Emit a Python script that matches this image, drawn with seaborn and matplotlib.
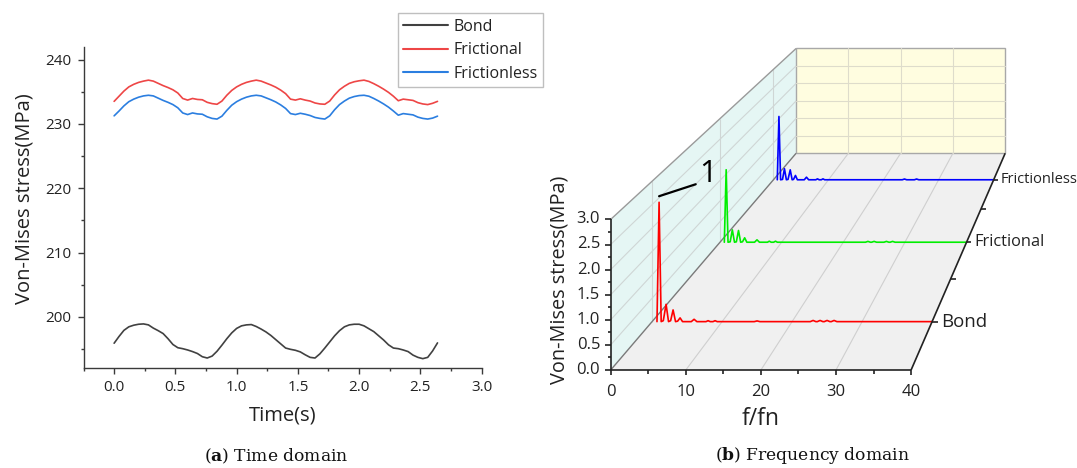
import numpy as np
import pandas as pd
import matplotlib
matplotlib.use("Agg")
import matplotlib.pyplot as plt
import matplotlib.transforms as mtransforms
from matplotlib.patches import Polygon, Rectangle
from matplotlib.lines import Line2D
from matplotlib.ticker import MultipleLocator
import seaborn as sns

# ------------------------------------------------------------------ data (a)
time_s = np.round(np.arange(0, 2.65, 0.04), 2)

bond_time = [
    195.9, 196.95, 197.9, 198.45, 198.7, 198.85, 198.9, 198.75, 198.25, 197.85,
    197.4, 196.6, 195.7, 195.2, 195.05, 194.85, 194.6, 194.3, 193.8, 193.6,
    193.9, 194.65, 195.6, 196.6, 197.5, 198.2, 198.6, 198.75, 198.8, 198.5,
    198.1, 197.65, 197.1, 196.45, 195.8, 195.15, 194.95, 194.8, 194.55, 194.1,
    193.7, 193.6, 194.25, 195.15, 196.1, 197.05, 197.85, 198.45, 198.75, 198.85,
    198.85, 198.6, 198.15, 197.7, 197.05, 196.4, 195.65, 195.15, 195.05, 194.85,
    194.6, 194.05, 193.7, 193.5, 193.7, 194.7, 195.95]

frictional_time = [
    233.5, 234.3, 235.1, 235.75, 236.15, 236.45, 236.65, 236.8, 236.65, 236.3,
    235.95, 235.65, 235.3, 234.8, 233.95, 233.7, 233.95, 233.8, 233.75, 233.35,
    233.15, 233.05, 233.55, 234.45, 235.2, 235.75, 236.15, 236.45, 236.65, 236.8,
    236.65, 236.35, 236.05, 235.7, 235.25, 234.7, 233.85, 233.7, 233.9, 233.7,
    233.55, 233.25, 233.1, 233.05, 233.55, 234.5, 235.3, 235.85, 236.3, 236.55,
    236.7, 236.8, 236.6, 236.25, 235.85, 235.4, 234.9, 234.3, 233.6, 233.85,
    233.75, 233.65, 233.3, 233.1, 233.0, 233.2, 233.5]

frictionless_time = [
    231.25, 232.0, 232.8, 233.45, 233.85, 234.15, 234.35, 234.45, 234.35, 234.0,
    233.65, 233.35, 233.0, 232.5, 231.7, 231.45, 231.7, 231.55, 231.5, 231.1,
    230.85, 230.75, 231.2, 232.1, 232.9, 233.45, 233.85, 234.15, 234.35, 234.45,
    234.35, 234.05, 233.75, 233.4, 232.95, 232.4, 231.6, 231.45, 231.65, 231.5,
    231.3, 231.0, 230.85, 230.75, 231.25, 232.2, 233.0, 233.55, 234.0, 234.25,
    234.4, 234.45, 234.3, 233.95, 233.55, 233.1, 232.6, 232.0, 231.35, 231.6,
    231.5, 231.4, 231.05, 230.85, 230.75, 230.9, 231.2]

series_names = ["Bond", "Frictional", "Frictionless"]
time_colors = ["#414141", "#ee4646", "#2b7ee0"]

# ------------------------------------------------------------------ data (b)
bond_f = [0.7, 1.0, 1.3, 1.6, 2.0, 2.35, 2.65, 3.0, 3.35, 3.65, 4.0, 4.35, 5.6, 6.0,
          6.4, 7.7, 8.0, 8.3, 8.7, 9.0, 9.3, 14.6, 15.0, 15.4, 22.6, 23.0, 23.4, 23.6,
          24.0, 24.4, 24.6, 25.0, 25.4, 25.6, 26.0, 26.4, 40.0]
bond_amp = [0.0, 2.55, 0.0, 0.02, 0.37, 0.0, 0.02, 0.25, 0.0, 0.01, 0.08, 0.0, 0.0, 0.05,
            0.0, 0.0, 0.02, 0.0, 0.0, 0.02, 0.0, 0.0, 0.015, 0.0, 0.0, 0.025, 0.0, 0.0,
            0.025, 0.0, 0.0, 0.025, 0.0, 0.0, 0.025, 0.0, 0.0]

frictional_f = [0.7, 1.0, 1.3, 1.65, 2.0, 2.35, 2.65, 3.0, 3.35, 3.65, 4.0, 4.35, 5.6,
                6.0, 6.4, 7.7, 8.0, 8.3, 8.7, 9.0, 9.3, 23.6, 24.0, 24.4, 24.6, 25.0,
                25.4, 26.6, 27.0, 27.4, 27.6, 28.0, 28.4, 40.0]
frictional_amp = [0.0, 1.76, 0.0, 0.01, 0.30, 0.0, 0.01, 0.285, 0.0, 0.01, 0.107, 0.0,
                  0.0, 0.058, 0.0, 0.0, 0.025, 0.0, 0.0, 0.025, 0.0, 0.0, 0.02, 0.0,
                  0.0, 0.02, 0.0, 0.0, 0.02, 0.0, 0.0, 0.02, 0.0, 0.0]

frictionless_f = [0.7, 1.0, 1.3, 1.65, 2.0, 2.35, 2.65, 3.05, 3.4, 3.65, 4.0, 4.35, 5.6,
                  6.0, 6.4, 7.7, 8.0, 8.3, 8.7, 9.0, 9.3, 23.4, 23.8, 24.2, 25.6, 26.0,
                  26.4, 40.0]
frictionless_amp = [0.0, 1.72, 0.0, 0.01, 0.30, 0.0, 0.01, 0.27, 0.0, 0.01, 0.117, 0.0,
                    0.0, 0.07, 0.0, 0.0, 0.025, 0.0, 0.0, 0.025, 0.0, 0.0, 0.02, 0.0,
                    0.0, 0.02, 0.0, 0.0]

series_depth = [0.5, 1.5, 2.5]
spec_colors = ["#ff0000", "#00ee00", "#0000ff"]
fx_ticks = [0, 10, 20, 30, 40]
fz_ticks = [0.0, 0.5, 1.0, 1.5, 2.0, 2.5, 3.0]

# ------------------------------------------------------------------ style
sns.set_theme(style="white")
plt.rcParams["font.family"] = ["Open Sans", "DejaVu Sans"]
plt.rcParams["mathtext.fontset"] = "custom"
plt.rcParams["mathtext.rm"] = "DejaVu Serif"
plt.rcParams["mathtext.bf"] = "DejaVu Serif:bold"

W, H = 1077, 468
fig = plt.figure(figsize=(W / 100, H / 100), dpi=100)
fig.patch.set_facecolor("white")


def fig_rect(x0, y0, x1, y1):
    return [x0 / W, 1 - y1 / H, (x1 - x0) / W, (y1 - y0) / H]


TXT = "#222222"
AX = "#3a3a3a"

# ================================================================== panel (a)
axa = fig.add_axes(fig_rect(83.5, 46.7, 481.6, 368.3))
dfa = pd.DataFrame({
    "t": np.concatenate([time_s] * 3),
    "v": np.concatenate([bond_time, frictional_time, frictionless_time]),
    "series": np.repeat(series_names, len(time_s)),
})
sns.lineplot(data=dfa, x="t", y="v", hue="series", hue_order=series_names,
             palette=dict(zip(series_names, time_colors)), estimator=None,
             linewidth=1.2, legend=False, ax=axa)
axa.set_xlim(-0.25, 3.0)
axa.set_ylim(192, 242)
axa.xaxis.set_minor_locator(MultipleLocator(0.25))
axa.yaxis.set_minor_locator(MultipleLocator(5))
axa.set_xticks(np.arange(0, 3.01, 0.5))
axa.set_xticklabels([f"{v:.1f}" for v in np.arange(0, 3.01, 0.5)])
axa.set_yticks([200, 210, 220, 230, 240])
for s in ["top", "right"]:
    axa.spines[s].set_visible(False)
for s in ["left", "bottom"]:
    axa.spines[s].set_color(AX)
    axa.spines[s].set_linewidth(1.0)
axa.tick_params(which="major", direction="out", length=4.5, width=1.0, color=AX,
                labelsize=11, labelcolor=TXT, pad=4, bottom=True, left=True)
axa.tick_params(which="minor", direction="out", length=2.5, width=1.0, color=AX,
                bottom=True, left=True)
axa.set_facecolor("white")
axa.grid(False)
axa.set_xlabel("Time(s)", fontsize=14.5, color=TXT)
axa.set_ylabel("Von-Mises stress(MPa)", fontsize=14.5, color=TXT)
axa.xaxis.label.set_va("center")
axa.yaxis.label.set_va("center")
axa.xaxis.set_label_coords((282.4 - 83.5) / (481.6 - 83.5), (368.3 - 416) / (368.3 - 46.7))
axa.yaxis.set_label_coords((24.6 - 83.5) / (481.6 - 83.5), (368.3 - 199) / (368.3 - 46.7))

handles = [Line2D([], [], color=c, lw=1.5) for c in time_colors]
leg = axa.legend(handles, series_names, loc="upper left",
                 bbox_to_anchor=(397.5 / W, 1 - 13.3 / H), bbox_transform=fig.transFigure,
                 frameon=True, fancybox=False, edgecolor="#b0b0b0", fontsize=11.5,
                 handlelength=2.8, handletextpad=0.35, labelspacing=0.48,
                 borderpad=0.34, borderaxespad=0)
leg.get_frame().set_linewidth(1.0)
for t in leg.get_texts():
    t.set_color(TXT)

fig.text(276 / W, 1 - 456 / H, r"($\mathbf{a}$) Time domain", ha="center", va="center",
         fontsize=12.3, family="DejaVu Serif", color="#111111")

# ================================================================== panel (b)
X0, Y0 = 610.7, 370.0       # pixel position of (f=0, stress=0) on the front plane
PX_F, PX_Z = 7.51, 50.2      # pixels per unit on the front plane
VPX, VPZ = 81.2, 14.2        # vanishing point (front-plane units)
K = 0.1456                   # perspective shrink per unit depth
DEPTH = 3.0

axb = fig.add_axes(fig_rect(560, 0, 1077, 400))


def shrink(d):
    return 1.0 / (1.0 + K * d)


def depth_tf(d):
    s = shrink(d)
    return (mtransforms.Affine2D().translate(-VPX, -VPZ).scale(s).translate(VPX, VPZ)
            + axb.transData)


def proj(x, z, d):
    s = shrink(d)
    return VPX + (x - VPX) * s, VPZ + (z - VPZ) * s


def seg(p, q, **kw):
    axb.plot([p[0], q[0]], [p[1], q[1]], solid_capstyle="butt", **kw)


FMAX, ZMAX = 40, 3.0
# walls
left_wall = [proj(0, 0, 0), proj(0, 0, DEPTH), proj(0, ZMAX, DEPTH), proj(0, ZMAX, 0)]
floor = [proj(0, 0, 0), proj(FMAX, 0, 0), proj(FMAX, 0, DEPTH), proj(0, 0, DEPTH)]
axb.add_patch(Polygon(left_wall, closed=True, facecolor="#e5f6f4", edgecolor="none", zorder=0))
axb.add_patch(Polygon(floor, closed=True, facecolor="#f0f0f0", edgecolor="none", zorder=0))
axb.add_patch(Rectangle((0, 0), FMAX, ZMAX, facecolor="#fffde0", edgecolor="#a8a8a8",
                        lw=1.0, transform=depth_tf(DEPTH), zorder=0.5))

# grids
gkw = dict(color="#cfd6d5", lw=0.8, zorder=1)
for z in [0.5, 1.0, 1.5, 2.0, 2.5]:
    seg(proj(0, z, 0), proj(0, z, DEPTH), **gkw)
for d in series_depth:
    seg(proj(0, 0, d), proj(0, ZMAX, d), **gkw)
for x in [10, 20, 30]:
    seg(proj(x, 0, 0), proj(x, 0, DEPTH), color="#cfcfcf", lw=0.8, zorder=1)
    axb.plot([x, x], [0, ZMAX], color="#dedccb", lw=0.8, transform=depth_tf(DEPTH), zorder=1)
for z in [0.5, 1.0, 1.5, 2.0, 2.5]:
    axb.plot([0, FMAX], [z, z], color="#dedccb", lw=0.8, transform=depth_tf(DEPTH), zorder=1)

# box edges
seg(proj(0, ZMAX, 0), proj(0, ZMAX, DEPTH), color="#9a9a9a", lw=1.0, zorder=2)
seg(proj(0, 0, 0), proj(0, 0, DEPTH), color="#7a7a7a", lw=1.0, zorder=2)
seg(proj(FMAX, 0, 0), proj(FMAX, 0, DEPTH), color="#222222", lw=1.2, zorder=4)

# spectra
spectra = [(bond_f, bond_amp), (frictional_f, frictional_amp), (frictionless_f, frictionless_amp)]
for (f, a), d, c in zip(spectra, series_depth, spec_colors):
    sns.lineplot(x=f, y=a, color=c, lw=1.2, estimator=None, sort=False,
                 transform=depth_tf(d), ax=axb, zorder=3)
axb.set_xlim((560 - X0) / PX_F, (1077 - X0) / PX_F)
axb.set_ylim((Y0 - 400) / PX_Z, Y0 / PX_Z)
axb.axis("off")

# front axes
akw = dict(color="#222222", lw=1.2, zorder=4)
seg((0, 0), (FMAX, 0), **akw)
seg((0, 0), (0, ZMAX), **akw)
tx_major, tx_minor = 5.0 / PX_Z, 3.5 / PX_Z
for x in fx_ticks:
    seg((x, 0), (x, -tx_major), **akw)
    axb.text(x, -0.44, f"{x}", ha="center", va="center", fontsize=12, color=TXT)
for x in [5, 15, 25, 35]:
    seg((x, 0), (x, -tx_minor), **akw)
ty_major, ty_minor = 5.5 / PX_F, 3.0 / PX_F
for z in fz_ticks:
    seg((0, z), (-ty_major, z), **akw)
    axb.text(-10.5 / PX_F, z, f"{z:.1f}", ha="right", va="center", fontsize=12, color=TXT)
for z in np.arange(0.25, 3.0, 0.5):
    seg((0, z), (-ty_minor, z), **akw)

# depth axis ticks and series labels
for d in [0.5, 1.0, 1.5, 2.0, 2.5]:
    p = proj(FMAX, 0, d)
    seg(p, (p[0] + 6.0 * shrink(d) / PX_F, p[1]), **akw)
for name, d in zip(series_names, series_depth):
    p = proj(FMAX, 0, d)
    axb.text(p[0] + 10.0 * shrink(d) / PX_F, p[1], name, ha="left", va="center",
             fontsize=14.4 * shrink(d), color=TXT)

# annotation of the first peak
axb.annotate("1", xy=proj(1.0, 2.68, 0.5), xytext=proj(6.7, 2.98, 0.5),
             fontsize=22, color="black", ha="left", va="baseline",
             arrowprops=dict(arrowstyle="-", color="black", lw=1.6,
                             shrinkA=0, shrinkB=0, relpos=(0, 0.2)))

axb.text((760.6 - X0) / PX_F, (Y0 - 419) / PX_Z, "f/fn", ha="center", va="center",
         fontsize=16.5, color=TXT)
axb.text((559 - X0) / PX_F, (Y0 - 280) / PX_Z, "Von-Mises stress(MPa)", ha="center",
         va="center", rotation=90, fontsize=14.3, color=TXT)

fig.text(812 / W, 1 - 456 / H, r"($\mathbf{b}$) Frequency domain", ha="center", va="center",
         fontsize=12.3, family="DejaVu Serif", color="#111111")

fig.savefig("out.png", dpi=100, facecolor="white")
